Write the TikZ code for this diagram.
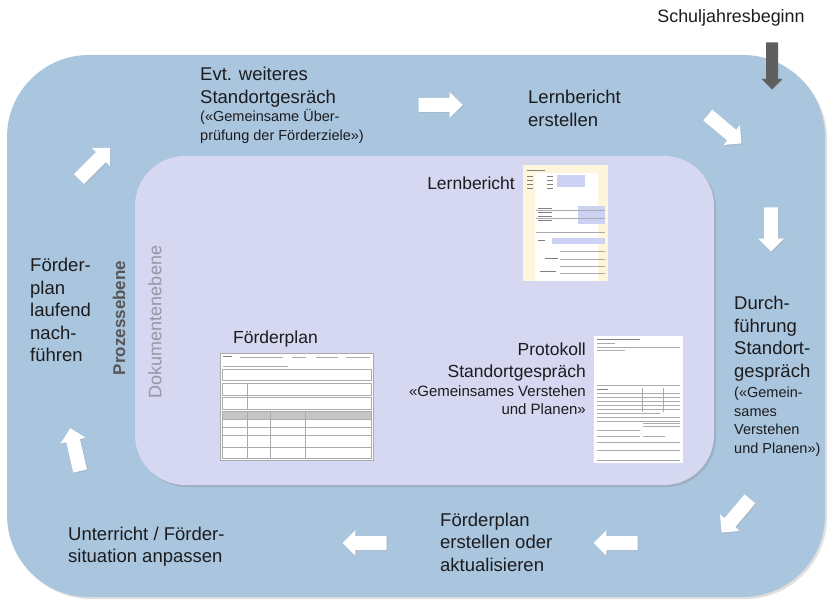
\documentclass[tikz,border=0pt]{standalone}
\usepackage{fontspec}
\setmainfont{Liberation Sans}
\usetikzlibrary{shapes.arrows,shadows}
\definecolor{outerblue}{RGB}{170,197,222}
\definecolor{innerlav}{RGB}{214,215,240}
\definecolor{txtdark}{RGB}{28,28,30}
\definecolor{arrgrey}{RGB}{95,95,95}
\definecolor{prozgrey}{RGB}{85,85,90}
\definecolor{dokgrey}{RGB}{150,150,165}
\definecolor{docline}{RGB}{170,170,175}
\definecolor{doclav}{RGB}{205,210,245}
\definecolor{docyel}{RGB}{253,246,220}
\newcommand\fbig{\fontsize{18.5}{22.5}\selectfont}
\newcommand\fdoc{\fontsize{17.5}{21}\selectfont}
\newcommand\fsmall{\fontsize{14.5}{18.5}\selectfont}
\newcommand\fmid{\fontsize{15}{17.5}\selectfont}
\newcommand\lnsl[1]{\begin{tabular}[t]{@{}l@{}}#1\end{tabular}}
\newcommand\lnsr[1]{\begin{tabular}[t]{@{}r@{}}#1\end{tabular}}
\tikzset{
  lbl/.style={anchor=base west, inner sep=0pt, text=txtdark, font=\fbig},
  lblr/.style={anchor=base east, inner sep=0pt, text=txtdark, font=\fdoc},
  sub/.style={lbl, font=\fsmall},
  warr/.style={single arrow, draw=none, fill=white, minimum height=44pt,
    minimum width=0pt, inner xsep=0pt, inner ysep=6.8pt,
    single arrow head extend=5.8pt,
    drop shadow={opacity=0.18, shadow xshift=1pt, shadow yshift=-1pt}},
  garr/.style={warr, fill=arrgrey, minimum height=47pt, inner ysep=5.6pt,
    single arrow head extend=4.6pt, drop shadow={opacity=0}},
  doc/.style={draw=none, fill=white, inner sep=0pt, anchor=north west},
  dl/.style={docline, line width=0.5pt},
}
\begin{document}
\begin{tikzpicture}[x=1pt,y=-1pt]
\useasboundingbox (0,0) rectangle (830,601);
% outer process layer
\path[fill=outerblue, rounded corners=82pt,
  drop shadow={opacity=0.25, shadow xshift=2pt, shadow yshift=-2pt}]
  (7,55) rectangle (825,597);
% inner document layer
\path[fill=innerlav, rounded corners=50pt,
  drop shadow={opacity=0.3, shadow xshift=2pt, shadow yshift=-2pt}]
  (135,156) rectangle (714,485);

% layer titles
\node[rotate=90, inner sep=0pt, text=prozgrey, font=\bfseries\fontsize{17}{20}\selectfont] (proz) at (119,318) {Prozessebene};
\node[rotate=90, inner sep=0pt, text=dokgrey, font=\fontsize{18}{20}\selectfont] (dok) at (155,322) {Dokumentenebene};

% start
\node[anchor=base, inner sep=0pt, text=txtdark, font=\fontsize{17.9}{20}\selectfont] (sjb) at (731,23) {Schuljahresbeginn};
\node[garr, rotate=-90] (a0) at (772,63) {};

% process labels
\node[lbl] (evt) at (200,81) {\lnsl{Evt. weiteres\\Standortgesräch}};
\node[sub] (evtsub) at (200,122) {\lnsl{(«Gemeinsame Über-\\prüfung der Förderziele»)}};
\node[lbl] (lbe) at (528,104) {\lnsl{Lernbericht\\erstellen}};
\node[lbl] (durch) at (734,310) {\lnsl{Durch-\\führung\\Standort-\\gespräch}};
\node[sub] (durchsub) at (734,398) {\lnsl{(«Gemein-\\sames\\Verstehen\\und Planen»)}};
\node[lbl] (fpe) at (440,526) {\lnsl{Förderplan\\erstellen oder\\aktualisieren}};
\node[lbl] (unt) at (68,540) {\lnsl{Unterricht / Förder-\\situation anpassen}};
\node[lbl] (fpl) at (30,272) {\lnsl{Förder-\\plan\\laufend\\nach-\\führen}};

% process arrows
\node[warr] (a1) at (437,105) {};
\node[warr, rotate=-40] (a2) at (722,127) {};
\node[warr, rotate=-90] (a3) at (771,226) {};
\node[warr, rotate=-130] (a4) at (738,513) {};
\node[warr, rotate=180] (a5) at (619,543) {};
\node[warr, rotate=180] (a6) at (368,543) {};
\node[warr, rotate=103] (a7) at (76,453) {};
\node[warr, rotate=45] (a8) at (92,166) {};

% document labels
\node[lblr] (lbdoc) at (515,190) {Lernbericht};
\node[lbl, font=\fdoc] (fpdoc) at (233,344) {Förderplan};
\node[lblr] (prot) at (586,356) {\lnsr{Protokoll\\Standortgespräch}};
\node[lblr, font=\fmid] (protsub) at (586,397) {\lnsr{«Gemeinsames Verstehen\\und Planen»}};

% Lernbericht document
\node[doc, minimum width=85pt, minimum height=116pt] (lbpage) at (523,165) {};
\fill[docyel] (lbpage.north west) rectangle ([xshift=12pt]lbpage.south west);
\fill[docyel] ([xshift=-10pt]lbpage.north east) rectangle (lbpage.south east);
\fill[docyel] (lbpage.north west) rectangle ([yshift=-8pt]lbpage.north east);
\draw[gray, line width=0.8pt] (527,170) -- (545,170);
\foreach \yy in {176,180,184,188} {\draw[gray, line width=0.6pt] (527,\yy) -- (533,\yy); \draw[gray, line width=0.6pt] (547,\yy) -- (553,\yy);}
\fill[doclav] (557,175) rectangle (585,187);
\foreach \yy in {208,212,216,220} {\draw[gray, line width=0.6pt] (538,\yy) -- (552,\yy);}
\fill[doclav] (578,206) rectangle (605,224);
\draw[dl] (536,210) -- (605,210); \draw[dl] (536,218) -- (605,218);
\draw[dl] (536,232) -- (605,232);
\draw[gray, line width=0.6pt] (538,240) -- (545,240);
\fill[doclav] (552,238) rectangle (605,244);
\draw[dl] (560,251) -- (605,251);
\draw[gray, line width=0.6pt] (545,258) -- (558,258); \draw[dl] (560,259) -- (605,259);
\draw[dl] (560,266) -- (605,266);
\draw[gray, line width=0.6pt] (540,271) -- (556,271); \draw[dl] (560,273) -- (605,273);

% Förderplan document
\node[doc, minimum width=153pt, minimum height=107pt, draw=docline, line width=0.4pt] (fppage) at (220,353) {};
\begin{scope}[docline, line width=0.5pt]
\draw[gray, line width=1pt] (223,357) -- (232,357);
\draw (240,357) -- (283,357) (292,357) -- (306,357) (316,357) -- (338,357) (346,357) -- (370,357);
\draw (223,366) -- (288,366);
\draw (222,369) rectangle (371,380);
\draw (222,383) rectangle (371,395);
\draw (222,397) rectangle (371,409);
\draw (247,383) -- (247,409);
\fill[gray!45] (222,411) rectangle (371,419);
\draw (222,411) rectangle (371,458);
\foreach \yy in {419,427,435,447} {\draw (222,\yy) -- (371,\yy);}
\foreach \xx in {247,270,305} {\draw (\xx,411) -- (\xx,458);}
\end{scope}

% Protokoll document
\node[doc, minimum width=89pt, minimum height=127pt] (prpage) at (594,336) {};
\begin{scope}[docline, line width=0.4pt]
\draw[gray] (597,339) -- (640,339);
\draw (597,343) -- (615,343);
\draw (597,347) -- (680,347);
\draw (597,350) -- (625,350);
\draw (597,385) -- (680,385);
\draw[gray] (597,389) -- (608,389);
\foreach \yy in {393,397,401,405,409} {\draw (597,\yy) -- (680,\yy);}
\draw (642,388) -- (642,412) (663,388) -- (663,412);
\draw (597,413) -- (660,413);
\draw (597,417) -- (680,417);
\draw (597,421) -- (680,421);
\draw (643,423) -- (680,423) (643,426) -- (680,426);
\draw (597,430) -- (640,430);
\draw (597,436) -- (640,436) (643,436) -- (665,436);
\draw (597,442) -- (680,442);
\draw (597,450) -- (680,450);
\draw (597,460) -- (680,460);
\end{scope}
\end{tikzpicture}
\end{document}
